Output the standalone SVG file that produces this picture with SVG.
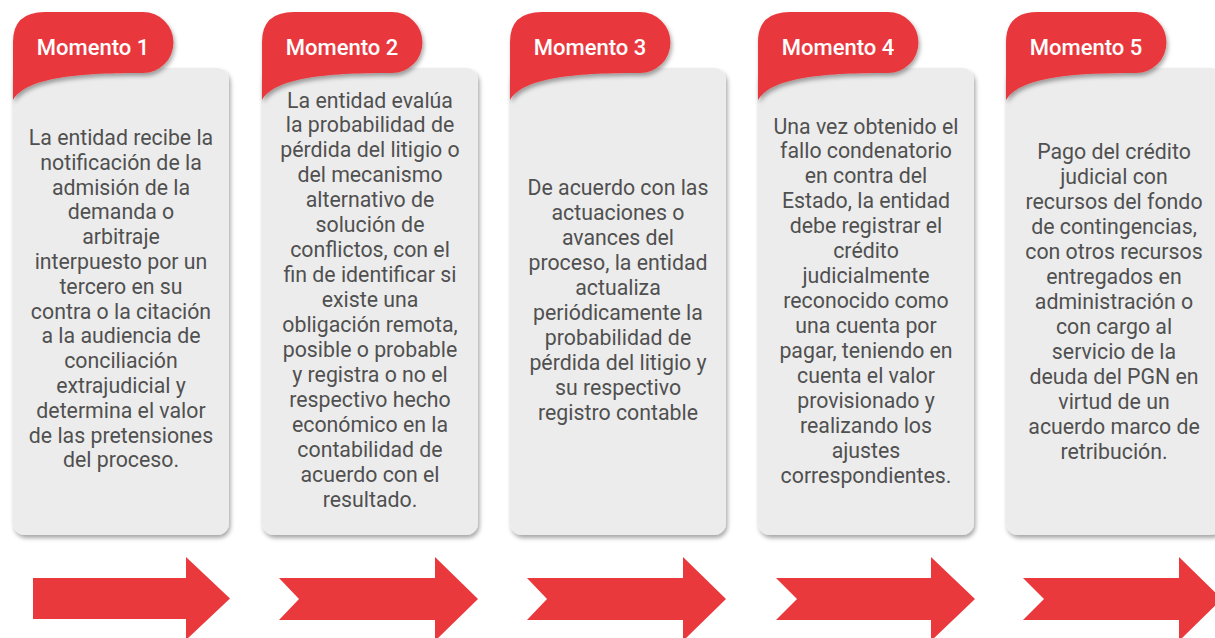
<svg xmlns="http://www.w3.org/2000/svg" width="1215" height="638" viewBox="0 0 1215 638">
<style>
.card{fill:#ececec}
.tab{fill:#e9393d}
.arrow{fill:#e9393d}
.title{font-family:Roboto,"Liberation Sans",sans-serif;font-weight:500;font-size:22px;fill:#fff;text-anchor:middle}
.body{font-family:Roboto,"Liberation Sans",sans-serif;font-size:21.3px;fill:#505050;text-anchor:middle}
</style>
<defs>
<filter id="sh" x="-10%" y="-10%" width="130%" height="130%">
<feDropShadow dx="1.5" dy="3" stdDeviation="2" flood-color="#000" flood-opacity="0.35"/>
</filter>
<path id="tabshape" d="M0,88 L0,30 Q0,0 32,0 L130,0 A30.5 30.5 0 0 1 130,61 C72,61 14,64 0,88 Z"/>
</defs>
<rect width="1215" height="638" fill="#fff"/>

<g id="momento1">
<rect class="card" x="13" y="68" width="216" height="467" rx="12" filter="url(#sh)"/>
<use href="#tabshape" class="tab" x="13" y="12" filter="url(#sh)"/>
<text class="title" x="93" y="55">Momento 1</text>
<text class="body" y="145"><tspan x="121">La entidad recibe la</tspan><tspan x="121" dy="24.8">notificación de la</tspan><tspan x="121" dy="24.8">admisión de la</tspan><tspan x="121" dy="24.8">demanda o</tspan><tspan x="121" dy="24.8">arbitraje</tspan><tspan x="121" dy="24.8">interpuesto por un</tspan><tspan x="121" dy="24.8">tercero en su</tspan><tspan x="121" dy="24.8">contra o la citación</tspan><tspan x="121" dy="24.8">a la audiencia de</tspan><tspan x="121" dy="24.8">conciliación</tspan><tspan x="121" dy="24.8">extrajudicial y</tspan><tspan x="121" dy="24.8">determina el valor</tspan><tspan x="121" dy="24.8">de las pretensiones</tspan><tspan x="121" dy="24.8">del proceso.</tspan></text>
</g>

<g id="momento2">
<rect class="card" x="262" y="68" width="216" height="467" rx="12" filter="url(#sh)"/>
<use href="#tabshape" class="tab" x="262" y="12" filter="url(#sh)"/>
<text class="title" x="342" y="55">Momento 2</text>
<text class="body" y="107.5"><tspan x="370">La entidad evalúa</tspan><tspan x="370" dy="24.95">la probabilidad de</tspan><tspan x="370" dy="24.95">pérdida del litigio o</tspan><tspan x="370" dy="24.95">del mecanismo</tspan><tspan x="370" dy="24.95">alternativo de</tspan><tspan x="370" dy="24.95">solución de</tspan><tspan x="370" dy="24.95">conflictos, con el</tspan><tspan x="370" dy="24.95">fin de identificar si</tspan><tspan x="370" dy="24.95">existe una</tspan><tspan x="370" dy="24.95">obligación remota,</tspan><tspan x="370" dy="24.95">posible o probable</tspan><tspan x="370" dy="24.95">y registra o no el</tspan><tspan x="370" dy="24.95">respectivo hecho</tspan><tspan x="370" dy="24.95">económico en la</tspan><tspan x="370" dy="24.95">contabilidad de</tspan><tspan x="370" dy="24.95">acuerdo con el</tspan><tspan x="370" dy="24.95">resultado.</tspan></text>
</g>

<g id="momento3">
<rect class="card" x="510" y="68" width="216" height="467" rx="12" filter="url(#sh)"/>
<use href="#tabshape" class="tab" x="510" y="12" filter="url(#sh)"/>
<text class="title" x="590" y="55">Momento 3</text>
<text class="body" y="194.5"><tspan x="618">De acuerdo con las</tspan><tspan x="618" dy="25">actuaciones o</tspan><tspan x="618" dy="25">avances del</tspan><tspan x="618" dy="25">proceso, la entidad</tspan><tspan x="618" dy="25">actualiza</tspan><tspan x="618" dy="25">periódicamente la</tspan><tspan x="618" dy="25">probabilidad de</tspan><tspan x="618" dy="25">pérdida del litigio y</tspan><tspan x="618" dy="25">su respectivo</tspan><tspan x="618" dy="25">registro contable</tspan></text>
</g>

<g id="momento4">
<rect class="card" x="758" y="68" width="216" height="467" rx="12" filter="url(#sh)"/>
<use href="#tabshape" class="tab" x="758" y="12" filter="url(#sh)"/>
<text class="title" x="838" y="55">Momento 4</text>
<text class="body" y="133.5"><tspan x="866">Una vez obtenido el</tspan><tspan x="866" dy="24.93">fallo condenatorio</tspan><tspan x="866" dy="24.93">en contra del</tspan><tspan x="866" dy="24.93">Estado, la entidad</tspan><tspan x="866" dy="24.93">debe registrar el</tspan><tspan x="866" dy="24.93">crédito</tspan><tspan x="866" dy="24.93">judicialmente</tspan><tspan x="866" dy="24.93">reconocido como</tspan><tspan x="866" dy="24.93">una cuenta por</tspan><tspan x="866" dy="24.93">pagar, teniendo en</tspan><tspan x="866" dy="24.93">cuenta el valor</tspan><tspan x="866" dy="24.93">provisionado y</tspan><tspan x="866" dy="24.93">realizando los</tspan><tspan x="866" dy="24.93">ajustes</tspan><tspan x="866" dy="24.93">correspondientes.</tspan></text>
</g>

<g id="momento5">
<rect class="card" x="1006" y="68" width="216" height="467" rx="12" filter="url(#sh)"/>
<use href="#tabshape" class="tab" x="1006" y="12" filter="url(#sh)"/>
<text class="title" x="1086" y="55">Momento 5</text>
<text class="body" y="158.5"><tspan x="1114">Pago del crédito</tspan><tspan x="1114" dy="25">judicial con</tspan><tspan x="1114" dy="25">recursos del fondo</tspan><tspan x="1114" dy="25">de contingencias,</tspan><tspan x="1114" dy="25">con otros recursos</tspan><tspan x="1114" dy="25">entregados en</tspan><tspan x="1114" dy="25">administración o</tspan><tspan x="1114" dy="25">con cargo al</tspan><tspan x="1114" dy="25">servicio de la</tspan><tspan x="1114" dy="25">deuda del PGN en</tspan><tspan x="1114" dy="25">virtud de un</tspan><tspan x="1114" dy="25">acuerdo marco de</tspan><tspan x="1114" dy="25">retribución.</tspan></text>
</g>

<g id="connectors">
<path class="arrow" d="M33,578 L186,578 L186,557 L230,598.5 L186,640 L186,619 L33,619 Z"/>
<path class="arrow" d="M279,578 L435,578 L435,557 L478,599 L435,641 L435,620 L279,620 L299,599 Z"/>
<path class="arrow" d="M527,578 L683,578 L683,557 L726,599 L683,641 L683,620 L527,620 L547,599 Z"/>
<path class="arrow" d="M776,578 L931,578 L931,557 L975,599 L931,641 L931,620 L776,620 L797,599 Z"/>
<path class="arrow" d="M1023,578 L1179,578 L1179,557 L1222,599 L1179,641 L1179,620 L1023,620 L1044,599 Z"/>
</g>
</svg>
